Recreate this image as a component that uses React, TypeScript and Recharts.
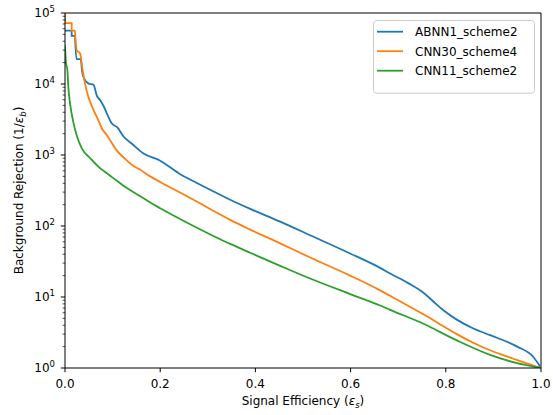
import React from 'react';
import { LineChart, Line, XAxis, YAxis, ReferenceLine, Legend } from 'recharts';

// ---- data ----
const xTicks = [0, 0.2, 0.4, 0.6, 0.8, 1.0];
const yMajorTicks = [1, 10, 100, 1000, 10000, 100000];
const yMinorMultipliers = [2, 3, 4, 5, 6, 7, 8, 9];

const seriesNames = ['ABNN1_scheme2', 'CNN30_scheme4', 'CNN11_scheme2'];
const seriesColors = ['#1f77b4', '#ff7f0e', '#2ca02c'];

const abnnX = [0, 0.014, 0.014, 0.021, 0.024, 0.033, 0.036, 0.04, 0.049, 0.06, 0.067, 0.074, 0.081, 0.091, 0.098, 0.11, 0.123, 0.14, 0.165, 0.2, 0.242, 0.27, 0.326, 0.347, 0.389, 0.452, 0.515, 0.599, 0.662, 0.683, 0.72, 0.753, 0.775, 0.795, 0.823, 0.858, 0.893, 0.95, 0.984, 1.0];
const abnnY = [56600, 56600, 47600, 47600, 22400, 22400, 14900, 12000, 10200, 9700, 6800, 5900, 4900, 3460, 2800, 2450, 1820, 1450, 1050, 832, 537, 427, 275, 234, 174, 115, 74, 41, 25.7, 21.4, 15.8, 11.5, 8.5, 6.5, 4.8, 3.6, 2.9, 2.0, 1.43, 1];

const cnn30X = [0, 0, 0.014, 0.014, 0.021, 0.0245, 0.0315, 0.037, 0.042, 0.049, 0.06, 0.07, 0.077, 0.088, 0.095, 0.108, 0.125, 0.144, 0.158, 0.179, 0.2, 0.27, 0.326, 0.347, 0.389, 0.452, 0.515, 0.599, 0.662, 0.683, 0.753, 0.8, 0.823, 0.872, 0.893, 0.942, 0.984, 1.0];
const cnn30Y = [100000, 72000, 72000, 56600, 56600, 30000, 27100, 15800, 10200, 6600, 4300, 3100, 2400, 1900, 1600, 1170, 900, 700, 620, 500, 417, 234, 145, 122, 89, 57, 36, 20, 12.4, 10.4, 5.7, 3.7, 3.0, 2.04, 1.78, 1.35, 1.08, 1];

const cnn11X = [0, 0.002, 0.005, 0.007, 0.0105, 0.0175, 0.0245, 0.035, 0.053, 0.074, 0.081, 0.1, 0.116, 0.126, 0.158, 0.179, 0.2, 0.27, 0.326, 0.347, 0.389, 0.452, 0.515, 0.599, 0.662, 0.683, 0.753, 0.823, 0.893, 0.95, 1.0];
const cnn11Y = [35000, 20000, 15800, 9100, 5400, 2900, 1900, 1250, 900, 650, 600, 480, 400, 357, 262, 214, 178, 100, 65, 56, 42, 27.5, 18.2, 11, 7.6, 6.6, 4.2, 2.45, 1.53, 1.17, 1];

// index where the stepped (vertical-jump) start ends and the smooth part begins
const stepEnd = [3, 4, 0];

const toPoints = (xs: number[], ys: number[]) => xs.map((x, i) => ({ x, y: ys[i] }));
const seriesData = [toPoints(abnnX, abnnY), toPoints(cnn30X, cnn30Y), toPoints(cnn11X, cnn11Y)];

const yTicks: number[] = [];
yMajorTicks.forEach((m, i) => {
  yTicks.push(m);
  if (i < yMajorTicks.length - 1) yMinorMultipliers.forEach((k) => yTicks.push(m * k));
});

const FONT = 'DejaVu Sans, sans-serif';

const YTick = (props: any) => {
  const { x, y, payload } = props;
  const v = payload.value as number;
  const lg = Math.log10(v);
  const exp = Math.round(lg);
  const isMajor = Math.abs(lg - exp) < 1e-9;
  return (
    <g>
      <line x1={x} x2={x - (isMajor ? 4.2 : 2.4)} y1={y} y2={y} stroke="#000" strokeWidth={isMajor ? 1 : 0.7} />
      {isMajor && (
        <text x={x - 10} y={y + 4.4} textAnchor="end" fontFamily={FONT} fontSize={12} fill="#000">
          10<tspan dy={-5.5} fontSize={8.5}>{exp}</tspan>
        </text>
      )}
    </g>
  );
};

const XTick = (props: any) => {
  const { x, y, payload } = props;
  return (
    <g>
      <line x1={x} x2={x} y1={y} y2={y + 4.2} stroke="#000" strokeWidth={1} />
      <text x={x} y={y + 19.7} textAnchor="middle" fontFamily={FONT} fontSize={12} fill="#000">
        {(payload.value as number).toFixed(1)}
      </text>
    </g>
  );
};

const LegendBox = () => (
  <svg width={163} height={75} style={{ display: 'block' }}>
    <rect x={0.5} y={0.5} width={161} height={72.7} rx={3} ry={3} fill="#fff" fillOpacity={0.8} stroke="#cccccc" strokeWidth={1} />
    {seriesNames.map((name, i) => {
      const cy = 11.7 + 19.5 * i;
      return (
        <g key={name}>
          <line x1={4} x2={30} y1={cy} y2={cy} stroke={seriesColors[i]} strokeWidth={1.8} />
          <text x={42} y={cy + 4.4} fontFamily={FONT} fontSize={12} fill="#000">{name}</text>
        </g>
      );
    })}
  </svg>
);

export default function App() {
  return (
    <div style={{ position: 'absolute', left: 0, top: 0, width: 553, height: 415, background: '#fff' }}>
      <LineChart width={553} height={415} margin={{ top: 13, right: 12, bottom: 0, left: 0 }}>
        <XAxis
          dataKey="x"
          type="number"
          domain={[0, 1]}
          ticks={xTicks}
          interval={0}
          height={47}
          tickSize={0}
          tickMargin={0}
          tickLine={false}
          axisLine={{ stroke: '#000', strokeWidth: 1 }}
          tick={<XTick />}
          allowDataOverflow
          label={{
            content: () => (
              <text x={303} y={405} textAnchor="middle" fontFamily={FONT} fontSize={12} fill="#000">
                Signal Efficiency (<tspan fontStyle="italic">ε</tspan>
                <tspan fontStyle="italic" fontSize={8.5} dy={2.5}>s</tspan>
                <tspan dy={-2.5}>)</tspan>
              </text>
            ),
          }}
        />
        <YAxis
          dataKey="y"
          type="number"
          scale="log"
          domain={[1, 100000]}
          ticks={yTicks}
          interval={0}
          width={65}
          tickSize={0}
          tickMargin={0}
          tickLine={false}
          axisLine={{ stroke: '#000', strokeWidth: 1 }}
          tick={<YTick />}
          allowDataOverflow
          label={{
            content: () => (
              <text
                x={23}
                y={190.5}
                textAnchor="middle"
                fontFamily={FONT}
                fontSize={12}
                fill="#000"
                transform="rotate(-90 23 190.5)"
              >
                Background Rejection (1/<tspan fontStyle="italic">ε</tspan>
                <tspan fontStyle="italic" fontSize={8.5} dy={2.5}>b</tspan>
                <tspan dy={-2.5}>)</tspan>
              </text>
            ),
          }}
        />
        <ReferenceLine y={100000} stroke="#000" strokeWidth={1} ifOverflow="visible" />
        <ReferenceLine x={1} stroke="#000" strokeWidth={1} ifOverflow="visible" />
        {seriesData.map((d, i) =>
          stepEnd[i] > 0 ? (
            <Line
              key={seriesNames[i] + '-step'}
              data={d.slice(0, stepEnd[i] + 1)}
              dataKey="y"
              name={seriesNames[i] + ' start'}
              type="linear"
              stroke={seriesColors[i]}
              strokeWidth={1.8}
              dot={false}
              activeDot={false}
              legendType="none"
              isAnimationActive={false}
            />
          ) : null
        )}
        {seriesData.map((d, i) => (
          <Line
            key={seriesNames[i]}
            data={d.slice(stepEnd[i])}
            dataKey="y"
            name={seriesNames[i]}
            type="monotone"
            stroke={seriesColors[i]}
            strokeWidth={1.8}
            dot={false}
            activeDot={false}
            isAnimationActive={false}
          />
        ))}
        <Legend
          layout="vertical"
          align="center"
          verticalAlign="middle"
          wrapperStyle={{ position: 'absolute', left: 373, top: 20, width: 163, height: 75 }}
          content={() => <LegendBox />}
        />
      </LineChart>
    </div>
  );
}
